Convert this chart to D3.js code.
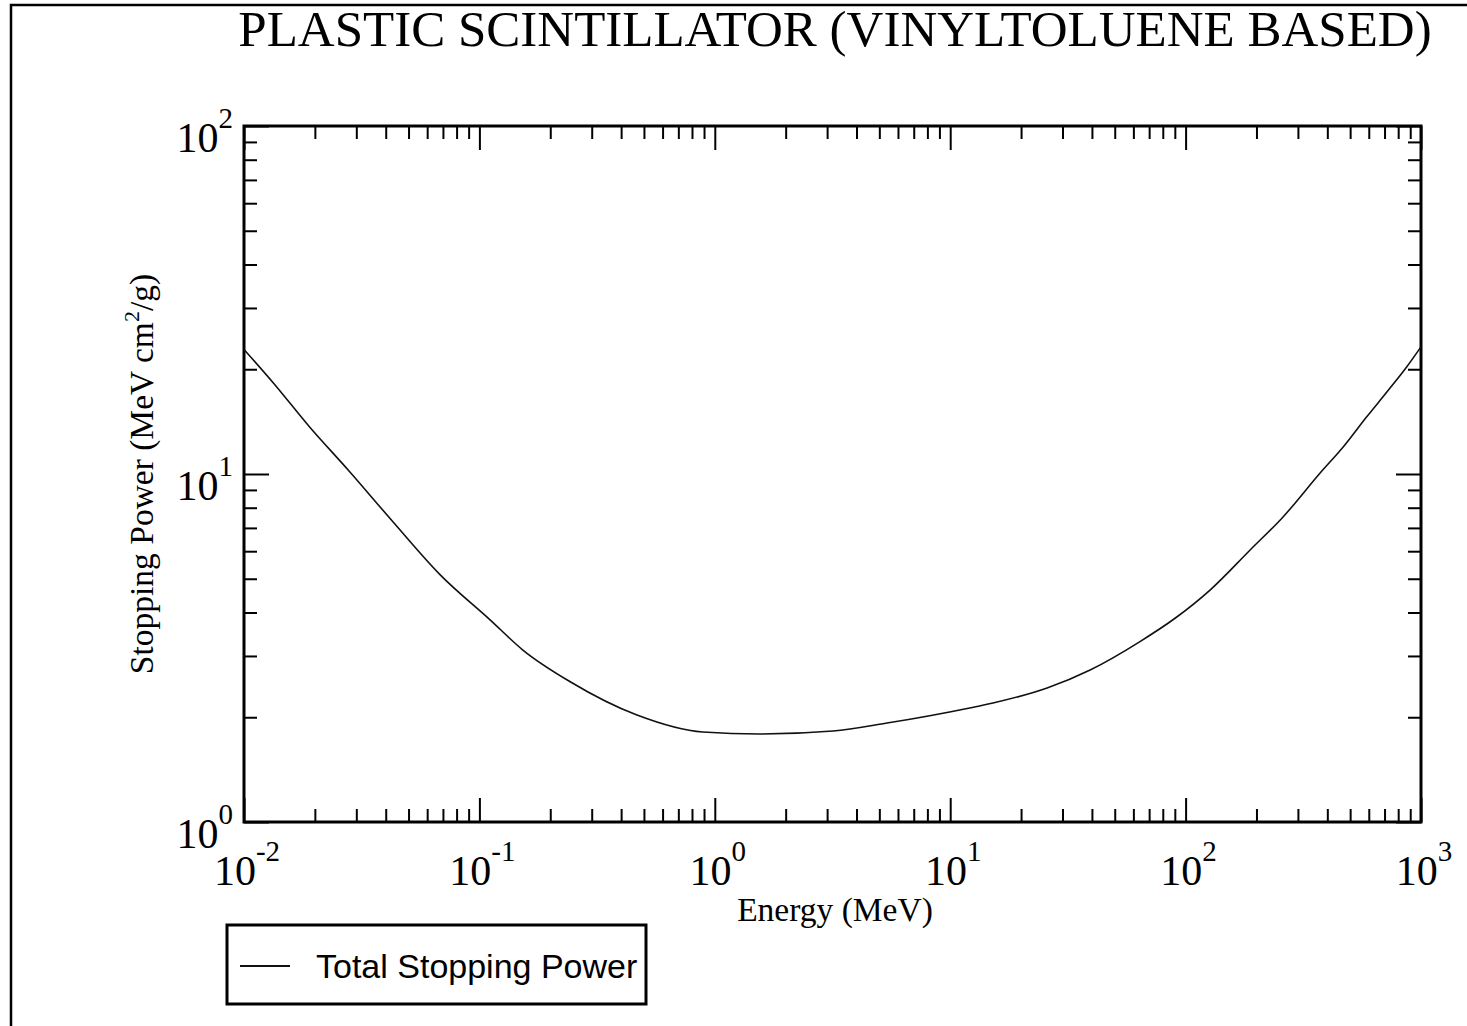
<!DOCTYPE html>
<html>
<head>
<meta charset="utf-8">
<script src="https://cdn.jsdelivr.net/npm/d3@7"></script>
<style>
  body { margin: 0; background: #fff; }
  svg { display: block; }
  .serif { font-family: "Liberation Serif", "Times New Roman", serif; fill: #000; }
  .sans { font-family: "Liberation Sans", Arial, sans-serif; fill: #000; }
</style>
</head>
<body>
<script>
'use strict';

// energy in MeV, total stopping power in MeV cm2/g
var energy   = [0.01, 0.0133, 0.019, 0.0277, 0.043, 0.068, 0.111, 0.153, 0.243, 0.467,
                0.89, 1.55, 3.18, 5.39, 12.1, 15.2, 25.8, 39.3, 64, 90.2,
                127, 188, 260, 372, 468, 588, 726, 869, 1000];
var stopping = [22.8, 18.3, 13.65, 10.27, 7.28, 5.14, 3.81, 3.12, 2.53, 2.03,
                1.814, 1.79, 1.826, 1.925, 2.127, 2.198, 2.427, 2.734, 3.30, 3.85,
                4.64, 6.05, 7.54, 10.05, 11.98, 14.6, 17.4, 20.3, 23.2];

var xDecades = [-2, -1, 0, 1, 2, 3];
var yDecades = [0, 1, 2];

var titleText = 'PLASTIC SCINTILLATOR (VINYLTOLUENE BASED)';
var xLabel = 'Energy (MeV)';
var legendLabel = 'Total Stopping Power';

(function() {

  var W = 1467, H = 1026;
  var pLeft = 244, pRight = 1421, pTop = 126, pBottom = 822;

  var svg = d3.select('body').append('svg')
    .attr('width', W).attr('height', H);

  // outer page frame (only top and left edges are visible)
  svg.append('path')
    .attr('d', 'M11,' + H + 'V5H' + W)
    .attr('fill', 'none').attr('stroke', '#000').attr('stroke-width', 2.5);

  var x = d3.scaleLog().domain([0.01, 1000]).range([pLeft, pRight]);
  var y = d3.scaleLog().domain([1, 100]).range([pBottom, pTop]);

  function isMajor(d) {
    var l = Math.log10(d);
    return Math.abs(l - Math.round(l)) < 1e-9;
  }

  var xTicks = x.ticks(), yTicks = y.ticks();

  // major ticks longer than minor ones, all pointing inward
  function styleTicks(g, major, minor, attr) {
    g.select('.domain').remove();
    g.selectAll('.tick line')
      .attr('stroke', '#000').attr('stroke-width', 2)
      .attr(attr, function(d) { return isMajor(d) ? major : minor; });
  }

  svg.append('g').attr('transform', 'translate(0,' + pBottom + ')')
    .call(d3.axisBottom(x).tickValues(xTicks).tickFormat(''))
    .call(styleTicks, -24, -13, 'y2');
  svg.append('g').attr('transform', 'translate(0,' + pTop + ')')
    .call(d3.axisTop(x).tickValues(xTicks).tickFormat(''))
    .call(styleTicks, 24, 13, 'y2');
  svg.append('g').attr('transform', 'translate(' + pLeft + ',0)')
    .call(d3.axisLeft(y).tickValues(yTicks).tickFormat(''))
    .call(styleTicks, 25, 13, 'x2');
  svg.append('g').attr('transform', 'translate(' + pRight + ',0)')
    .call(d3.axisRight(y).tickValues(yTicks).tickFormat(''))
    .call(styleTicks, -25, -13, 'x2');

  // plot frame
  svg.append('rect')
    .attr('x', pLeft).attr('y', pTop)
    .attr('width', pRight - pLeft).attr('height', pBottom - pTop)
    .attr('fill', 'none').attr('stroke', '#000').attr('stroke-width', 3);

  // curve
  var line = d3.line()
    .x(function(d) { return x(d[0]); })
    .y(function(d) { return y(d[1]); })
    .curve(d3.curveMonotoneX);

  svg.append('path')
    .datum(d3.zip(energy, stopping))
    .attr('d', line)
    .attr('fill', 'none').attr('stroke', '#111').attr('stroke-width', 1.6);

  // power-of-ten labels
  function powLabel(sel, exp) {
    sel.append('tspan').text('10');
    sel.append('tspan').attr('dy', -24).attr('font-size', 29).text(exp);
  }

  svg.append('g').selectAll('text')
    .data(xDecades).enter().append('text')
    .attr('class', 'serif')
    .attr('x', function(d) { return x(Math.pow(10, d)) + 3; })
    .attr('y', 885)
    .attr('font-size', 42)
    .attr('text-anchor', 'middle')
    .each(function(d) { powLabel(d3.select(this), d); });

  svg.append('g').selectAll('text')
    .data(yDecades).enter().append('text')
    .attr('class', 'serif')
    .attr('x', 233)
    .attr('y', function(d) { return y(Math.pow(10, d)) + 26; })
    .attr('font-size', 42)
    .attr('text-anchor', 'end')
    .each(function(d) { powLabel(d3.select(this), d); });

  // title and axis titles
  svg.append('text').attr('class', 'serif')
    .attr('x', 835).attr('y', 46)
    .attr('font-size', 51).attr('text-anchor', 'middle')
    .text(titleText);

  svg.append('text').attr('class', 'serif')
    .attr('x', 835).attr('y', 921)
    .attr('font-size', 33.5).attr('text-anchor', 'middle')
    .text(xLabel);

  var yl = svg.append('text').attr('class', 'serif')
    .attr('transform', 'translate(153,474) rotate(-90)')
    .attr('font-size', 33.5).attr('text-anchor', 'middle');
  yl.append('tspan').text('Stopping Power (MeV cm');
  yl.append('tspan').attr('dy', -14).attr('font-size', 22).text('2');
  yl.append('tspan').attr('dy', 14).text('/g)');

  // legend
  var lg = svg.append('g');
  lg.append('rect')
    .attr('x', 227).attr('y', 925).attr('width', 419).attr('height', 79)
    .attr('fill', '#fff').attr('stroke', '#000').attr('stroke-width', 3);
  lg.append('line')
    .attr('x1', 240).attr('x2', 290).attr('y1', 966).attr('y2', 966)
    .attr('stroke', '#111').attr('stroke-width', 2);
  lg.append('text').attr('class', 'sans')
    .attr('x', 316).attr('y', 978)
    .attr('font-size', 34)
    .text(legendLabel);

})();
</script>
</body>
</html>
